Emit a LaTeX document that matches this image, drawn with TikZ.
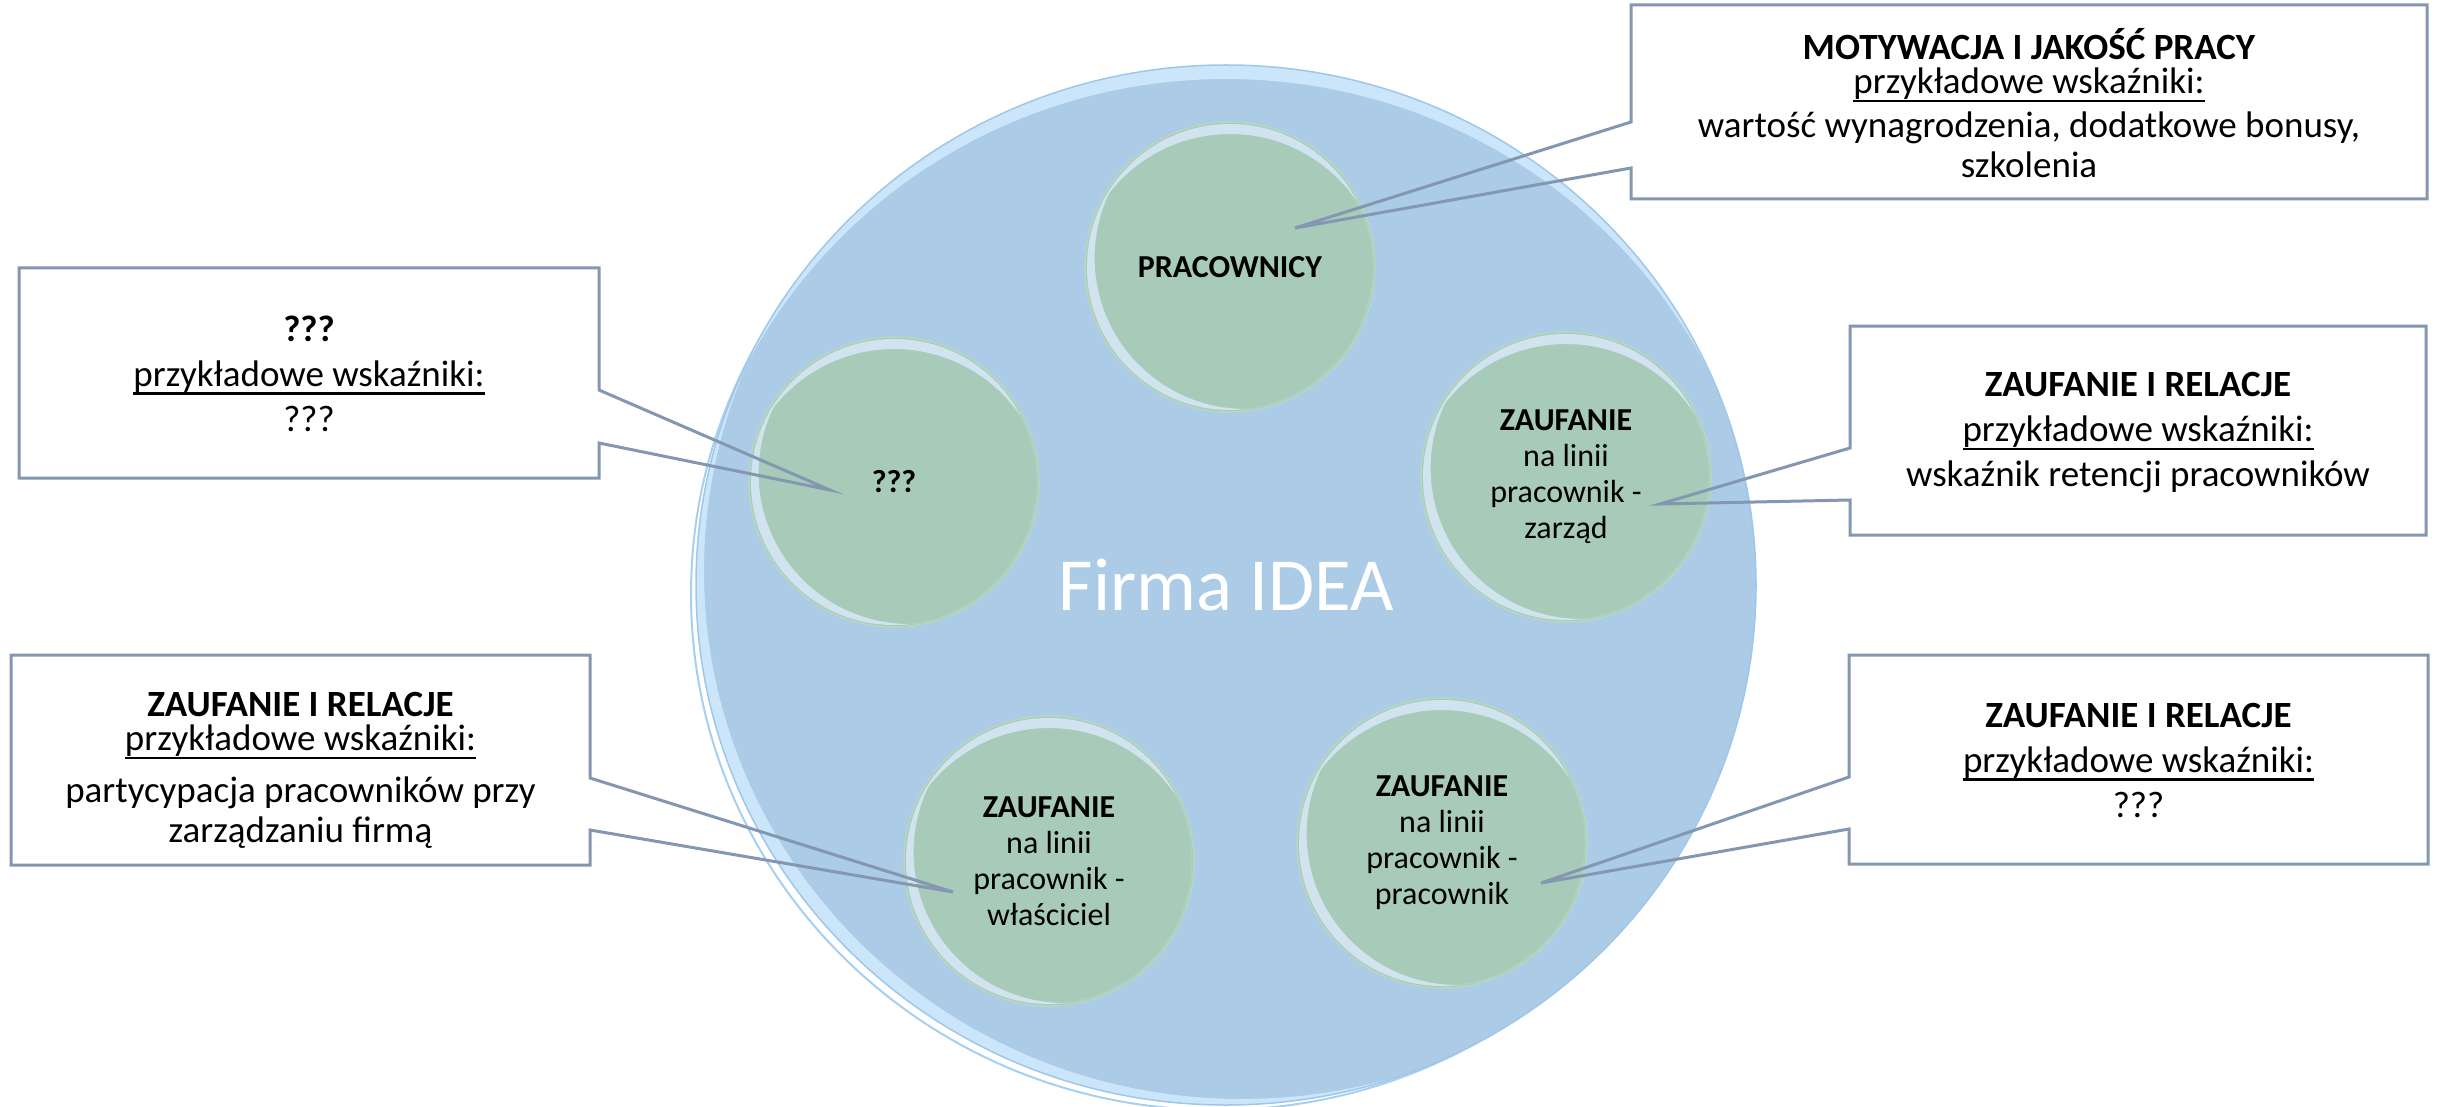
\documentclass[tikz,border=0pt]{standalone}
\usepackage{fontspec}
\setmainfont{Carlito}
\usetikzlibrary{calc,shapes.geometric}
\definecolor{bigfill}{HTML}{ABCBE7}
\definecolor{bigrim}{HTML}{CBE6FA}
\definecolor{bigedge}{HTML}{9EC7EA}
\definecolor{refl}{HTML}{A6CFF0}
\definecolor{greenfill}{HTML}{A7CBB8}
\definecolor{greenedge}{HTML}{B6D7C2}
\definecolor{greenrim}{HTML}{D0E3EF}
\definecolor{calloutc}{HTML}{8497B0}
\newcommand{\myul}[1]{\leavevmode\setbox0=\hbox{#1}\rlap{\vrule width \wd0 height -0.16em depth 0.23em}\box0}
\newcommand{\tightlines}{\lineskiplimit-100pt\relax}
\newcommand{\smallbevel}[1]{%
  \begin{scope}
    \clip (#1.center) circle[radius=143];
    \fill[greenrim, even odd rule] (#1.center) circle[radius=143] ($(#1.center)+(15.6,-9)$) circle[radius=151];
    \fill[greenrim, even odd rule] (#1.center) circle[radius=143] ($(#1.center)+(0,20)$) circle[radius=153];
  \end{scope}}
\tikzset{
  bigc/.style={ellipse, minimum width=1060pt, minimum height=1040pt, inner sep=0pt, outer sep=0pt,
    fill=bigfill, text=white, font=\fontsize{75}{80}\selectfont},
  smallc/.style={circle, minimum size=290pt, inner sep=0pt, outer sep=0pt, fill=greenfill,
    draw=greenedge, line width=1.5pt, align=center,
    font=\fontsize{32}{36}\selectfont\tightlines},
  callbox/.style={rectangle, fill=white, inner sep=0pt, outer sep=0pt},
  calltext/.style={inner sep=0pt, align=center, font=\fontsize{37}{45}\selectfont\tightlines},
  callline/.style={draw=calloutc, line width=3pt, line join=miter},
}
\begin{document}
\begin{tikzpicture}[x=1pt,y=-1pt]
\useasboundingbox (0,0) rectangle (2438,1107);
% big circle
\coordinate (fc) at (1226,585);
\draw[refl, line width=2pt] ($(fc)+(-9,9)$) ellipse [x radius=526, y radius=516];
\node[bigc] (firma) at (fc) {Firma IDEA};
\begin{scope}
  \clip (fc) ellipse [x radius=530, y radius=520];
  \fill[bigrim, even odd rule] (fc) ellipse [x radius=530, y radius=520] ($(fc)+(16,-14)$) ellipse [x radius=538, y radius=528];
  \fill[bigrim, even odd rule] (fc) ellipse [x radius=530, y radius=520] ($(fc)+(0,24)$) ellipse [x radius=540, y radius=530];
\end{scope}
\draw[bigedge, line width=1.5pt] (fc) ellipse [x radius=530, y radius=520];
% small circles
\node[smallc] (c1) at (1230,267) {\textbf{PRACOWNICY}};
\node[smallc] (c2) at (894,482) {\textbf{???}};
\node[smallc] (c3) at (1566,477) {\textbf{ZAUFANIE}\\na linii\\pracownik -\\zarząd};
\node[smallc] (c4) at (1049,861) {\textbf{ZAUFANIE}\\na linii\\pracownik -\\właściciel};
\node[smallc] (c5) at (1442,843) {\textbf{ZAUFANIE}\\na linii\\pracownik -\\pracownik};
\smallbevel{c1}\smallbevel{c2}\smallbevel{c3}\smallbevel{c4}\smallbevel{c5}
% callout boxes
\node[callbox, minimum width=796pt, minimum height=194pt] (b1) at (2029,102) {};
\node[callbox, minimum width=580pt, minimum height=210pt] (b2) at (309,373) {};
\node[callbox, minimum width=576pt, minimum height=209pt] (b3) at (2138,430.5) {};
\node[callbox, minimum width=579pt, minimum height=210pt] (b4) at (300.5,760) {};
\node[callbox, minimum width=579pt, minimum height=209pt] (b5) at (2138.5,759.5) {};
% texts of boxes
\node[calltext, font=\fontsize{37}{34}\selectfont\tightlines] (b1t) at (2029,103.5)
  {\textbf{MOTYWACJA I JAKOŚĆ PRACY}\\\myul{przykładowe wskaźniki:}\\[10pt]wartość wynagrodzenia, dodatkowe bonusy,\\[6pt]szkolenia};
\node[calltext] (b2t) at (309,373.5) {\textbf{???}\\\myul{przykładowe wskaźniki:}\\???};
\node[calltext] (b3t) at (2138,433) {\textbf{ZAUFANIE I RELACJE}\\\myul{przykładowe wskaźniki:}\\wskaźnik retencji pracowników};
\node[calltext, font=\fontsize{37}{34}\selectfont\tightlines] (b4t) at (300.5,770.5)
  {\textbf{ZAUFANIE I RELACJE}\\\myul{przykładowe wskaźniki:}\\[18pt]partycypacja pracowników przy\\[6pt]zarządzaniu firmą};
\node[calltext] (b5t) at (2138.5,760.5) {\textbf{ZAUFANIE I RELACJE}\\\myul{przykładowe wskaźniki:}\\???};
% tips
\coordinate (t1) at (1295,228);
\coordinate (t2) at (830,490);
\coordinate (t3) at (1660,504);
\coordinate (t4) at (953,892);
\coordinate (t5) at (1541,883);
% pinch points
\coordinate (b1p) at ($(b1.north west)+(0,117)$);
\coordinate (b1q) at ($(b1.north west)+(0,163)$);
\coordinate (b2p) at ($(b2.north east)+(0,122)$);
\coordinate (b2q) at ($(b2.north east)+(0,175)$);
\coordinate (b3p) at ($(b3.north west)+(0,122)$);
\coordinate (b3q) at ($(b3.north west)+(0,174)$);
\coordinate (b4p) at ($(b4.north east)+(0,123)$);
\coordinate (b4q) at ($(b4.north east)+(0,175)$);
\coordinate (b5p) at ($(b5.north west)+(0,122)$);
\coordinate (b5q) at ($(b5.north west)+(0,174)$);
% outlines with wedges
\draw[callline] (b1p) -- (b1.north west) -- (b1.north east) -- (b1.south east) -- (b1.south west) -- (b1q) -- (t1) -- cycle;
\draw[callline] (b3p) -- (b3.north west) -- (b3.north east) -- (b3.south east) -- (b3.south west) -- (b3q) -- (t3) -- cycle;
\draw[callline] (b5p) -- (b5.north west) -- (b5.north east) -- (b5.south east) -- (b5.south west) -- (b5q) -- (t5) -- cycle;
\draw[callline] (b2p) -- (b2.north east) -- (b2.north west) -- (b2.south west) -- (b2.south east) -- (b2q) -- (t2) -- cycle;
\draw[callline] (b4p) -- (b4.north east) -- (b4.north west) -- (b4.south west) -- (b4.south east) -- (b4q) -- (t4) -- cycle;
\end{tikzpicture}
\end{document}
